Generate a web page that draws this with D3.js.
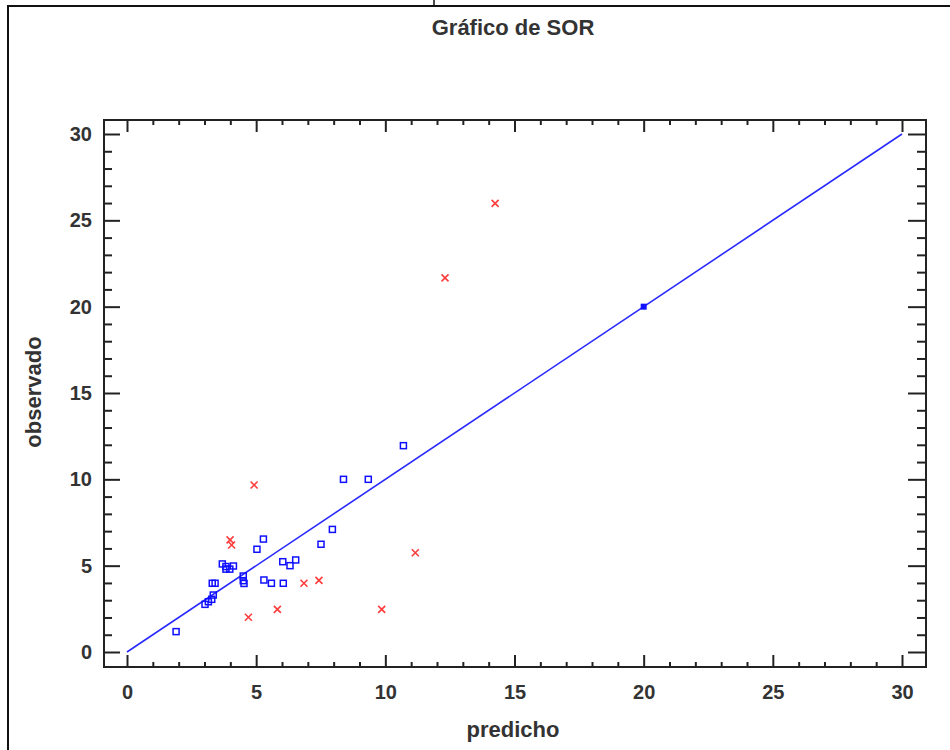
<!DOCTYPE html>
<html>
<head>
<meta charset="utf-8">
<script src="https://cdn.jsdelivr.net/npm/d3@7"></script>
<style>
  html, body { margin: 0; padding: 0; background: #fff; }
  svg { display: block; }
  text { font-family: "Liberation Sans", Arial, sans-serif; font-weight: bold; }
</style>
</head>
<body>
<svg id="chart" width="950" height="750"></svg>
<script>
// ---- data ----
const title = "Gráfico de SOR";
const xLabel = "predicho";
const yLabel = "observado";
const majorTicks = [0, 5, 10, 15, 20, 25, 30];

const blueX = [10.7, 8.38, 9.34, 7.95, 7.51, 5.28, 5.03, 3.69, 3.83, 3.98, 3.83, 4.12, 4.50, 4.50, 4.53, 3.30, 3.41, 3.34, 3.28, 3.15, 3.02, 5.30, 5.59, 6.05, 6.03, 6.31, 6.53, 1.90];
const blueY = [11.95, 10.0, 10.0, 7.10, 6.24, 6.54, 5.95, 5.10, 4.95, 4.80, 4.80, 4.98, 4.40, 4.13, 3.97, 3.98, 3.98, 3.30, 3.05, 2.91, 2.76, 4.17, 3.98, 3.98, 5.23, 5.00, 5.33, 1.18];
const filledX = [20.0];
const filledY = [20.0];
const redX = [4.92, 3.99, 4.05, 6.85, 7.43, 5.82, 4.70, 9.86, 11.16, 14.25, 12.31];
const redY = [9.67, 6.49, 6.20, 3.98, 4.15, 2.47, 2.01, 2.47, 5.75, 25.98, 21.67];
const lineX = [0, 30];
const lineY = [0, 30];

// ---- layout ----
const svg = d3.select("#chart");
const frame = { left: 104, top: 120, right: 926, bottom: 667 };
const x = d3.scaleLinear().domain([0, 30]).range([127, 902]);
const y = d3.scaleLinear().domain([0, 30]).range([652, 134]);
const minorTicks = d3.range(0, 31).filter(v => v % 5 !== 0);
const axisColor = "#222";

// outer border
svg.append("path")
  .attr("d", "M8,750 L8,6 L950,6")
  .attr("fill", "none").attr("stroke", "#111").attr("stroke-width", 2);
svg.append("line").attr("x1", 434).attr("x2", 434).attr("y1", 0).attr("y2", 5)
  .attr("stroke", "#111").attr("stroke-width", 1.5);

// title
svg.append("text").attr("x", 513).attr("y", 35).attr("text-anchor", "middle")
  .attr("font-size", 22).attr("fill", "#333").text(title);

// axes helper
function styleAxis(g) {
  g.select(".domain").remove();
  g.selectAll(".tick line").attr("stroke", axisColor).attr("stroke-width", 2);
  g.selectAll(".tick text").attr("fill", "#333").attr("font-size", 20)
    .attr("font-family", "'Liberation Sans', Arial, sans-serif").attr("font-weight", "bold");
}

// bottom axis
svg.append("g").attr("transform", `translate(0,${frame.bottom})`)
  .call(d3.axisBottom(x).tickValues(majorTicks).tickSize(-12).tickPadding(18).tickFormat(d3.format("d")))
  .call(styleAxis);
svg.append("g").attr("transform", `translate(0,${frame.bottom})`)
  .call(d3.axisBottom(x).tickValues(minorTicks).tickSize(-5).tickFormat(""))
  .call(styleAxis);
// top axis (mirrored ticks)
svg.append("g").attr("transform", `translate(0,${frame.top})`)
  .call(d3.axisTop(x).tickValues(majorTicks).tickSize(-12).tickFormat(""))
  .call(styleAxis);
svg.append("g").attr("transform", `translate(0,${frame.top})`)
  .call(d3.axisTop(x).tickValues(minorTicks).tickSize(-5).tickFormat(""))
  .call(styleAxis);
// left axis
svg.append("g").attr("transform", `translate(${frame.left},0)`)
  .call(d3.axisLeft(y).tickValues(majorTicks).tickSize(-16).tickPadding(12).tickFormat(d3.format("d")))
  .call(styleAxis);
svg.append("g").attr("transform", `translate(${frame.left},0)`)
  .call(d3.axisLeft(y).tickValues(minorTicks).tickSize(-8).tickFormat(""))
  .call(styleAxis);
// right axis
svg.append("g").attr("transform", `translate(${frame.right},0)`)
  .call(d3.axisRight(y).tickValues(majorTicks).tickSize(-18).tickFormat(""))
  .call(styleAxis);
svg.append("g").attr("transform", `translate(${frame.right},0)`)
  .call(d3.axisRight(y).tickValues(minorTicks).tickSize(-9).tickFormat(""))
  .call(styleAxis);

// frame
svg.append("rect")
  .attr("x", frame.left).attr("y", frame.top)
  .attr("width", frame.right - frame.left).attr("height", frame.bottom - frame.top)
  .attr("fill", "none").attr("stroke", axisColor).attr("stroke-width", 2);

// axis labels
svg.append("text").attr("x", 513).attr("y", 737).attr("text-anchor", "middle")
  .attr("font-size", 22).attr("fill", "#333").text(xLabel);
svg.append("text").attr("transform", "translate(41,392) rotate(-90)").attr("text-anchor", "middle")
  .attr("font-size", 22).attr("fill", "#333").text(yLabel);

// reference line
svg.append("path")
  .datum(lineX.map((v, i) => [v, lineY[i]]))
  .attr("d", d3.line().x(d => x(d[0])).y(d => y(d[1])))
  .attr("fill", "none").attr("stroke", "#2a2aff").attr("stroke-width", 1.6);

// blue squares
const sq = 6;
svg.append("g").selectAll("rect")
  .data(blueX.map((v, i) => [v, blueY[i]]))
  .join("rect")
  .attr("x", d => x(d[0]) - sq / 2).attr("y", d => y(d[1]) - sq / 2)
  .attr("width", sq).attr("height", sq)
  .attr("fill", "none").attr("stroke", "#1010ff").attr("stroke-width", 1.5);

svg.append("g").selectAll("rect")
  .data(filledX.map((v, i) => [v, filledY[i]]))
  .join("rect")
  .attr("x", d => x(d[0]) - 3).attr("y", d => y(d[1]) - 3)
  .attr("width", 6).attr("height", 6)
  .attr("fill", "#1010ff");

// red crosses
const cs = 3.5;
svg.append("g").selectAll("path")
  .data(redX.map((v, i) => [v, redY[i]]))
  .join("path")
  .attr("d", d => {
    const cx = x(d[0]), cy = y(d[1]);
    return `M${cx - cs},${cy - cs}L${cx + cs},${cy + cs}M${cx - cs},${cy + cs}L${cx + cs},${cy - cs}`;
  })
  .attr("fill", "none").attr("stroke", "#ff3c3c").attr("stroke-width", 1.6);
</script>
</body>
</html>
